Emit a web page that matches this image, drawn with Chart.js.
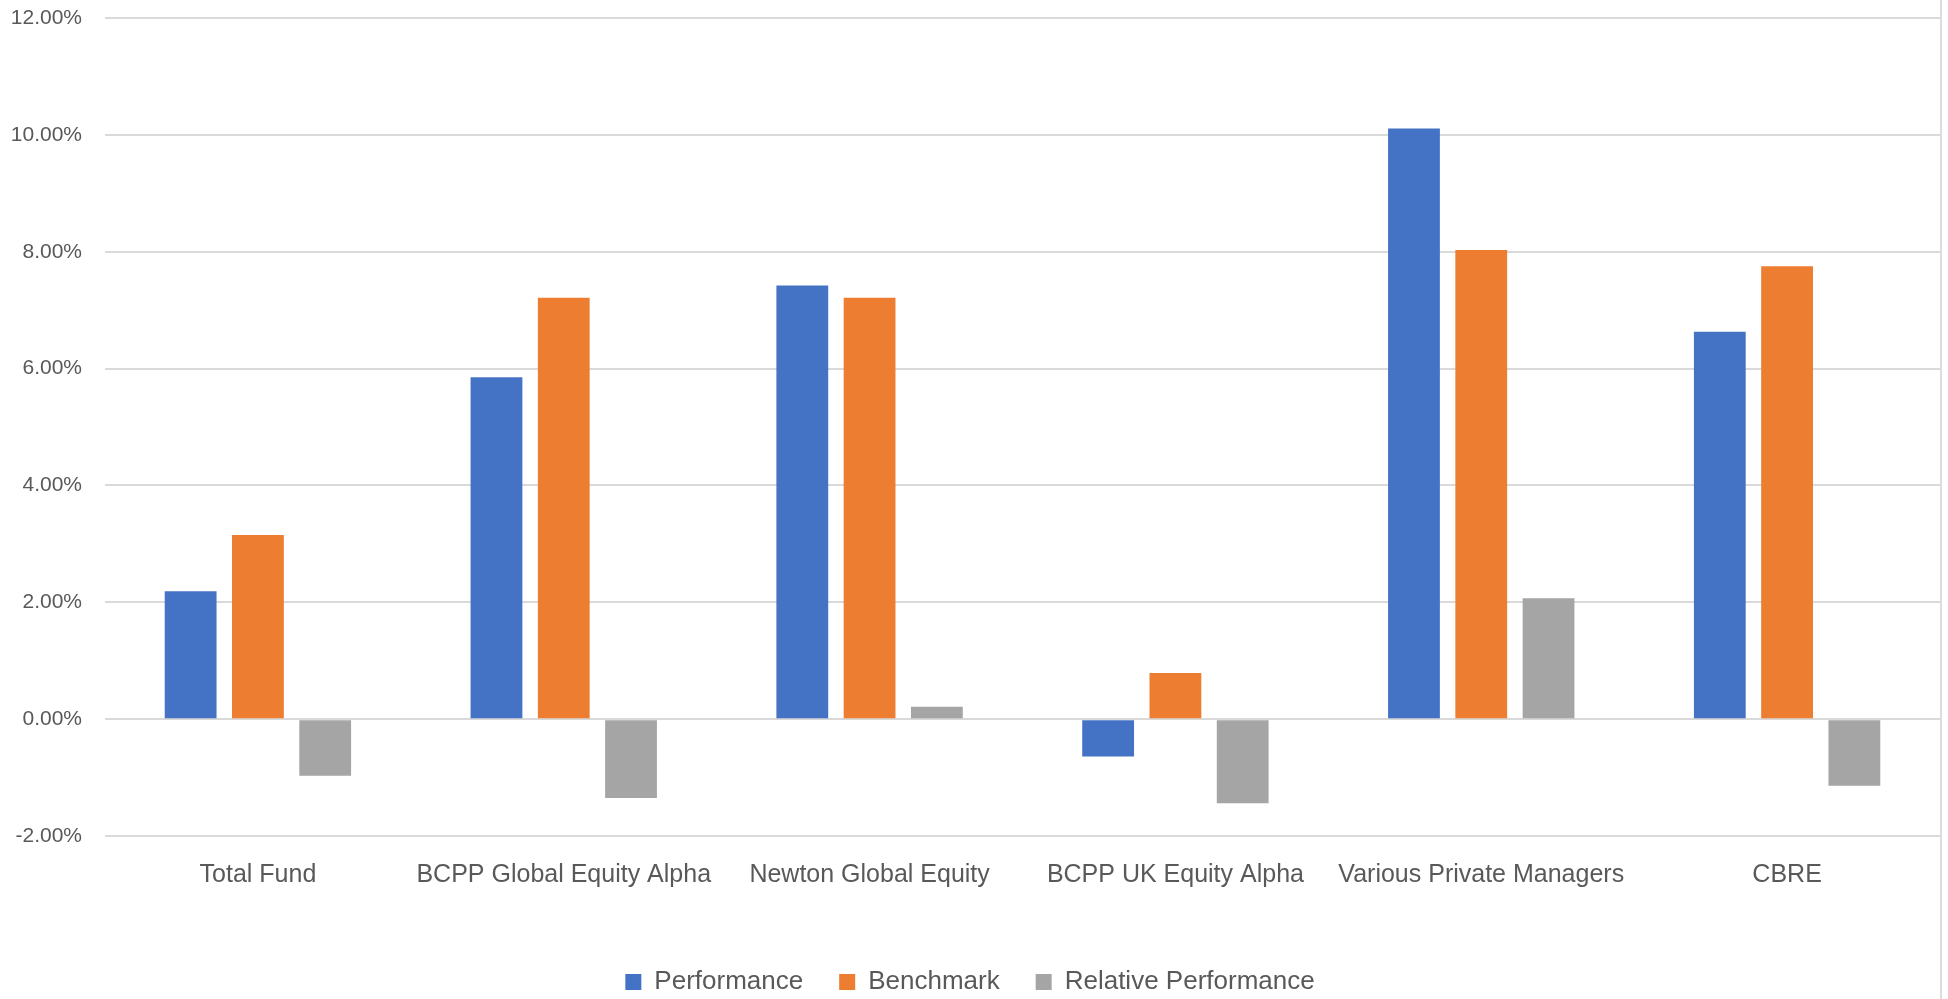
<!DOCTYPE html>
<html>
<head>
<meta charset="utf-8">
<script src="https://cdn.jsdelivr.net/npm/chart.js@4/dist/chart.umd.min.js"></script>
<style>
  html, body { margin: 0; padding: 0; background: #fff; }
  #wrap { width: 1940px; height: 999px; border-right: 2px solid #dcdcdc; }
</style>
</head>
<body>
<div id="wrap"><canvas id="chart" width="1940" height="999"></canvas></div>
<script>
var categories = ["Total Fund", "BCPP Global Equity Alpha", "Newton Global Equity", "BCPP UK Equity Alpha", "Various Private Managers", "CBRE"];
var performance = [2.19, 5.85, 7.42, -0.64, 10.11, 6.63];
var benchmark = [3.15, 7.21, 7.21, 0.79, 8.03, 7.75];
var relative = [-0.97, -1.35, 0.21, -1.44, 2.07, -1.14];

var yTicks = [-2, 0, 2, 4, 6, 8, 10, 12];

var ctx = document.getElementById("chart");

var chartGraph = new Chart(ctx, {
  type: 'bar',
  data: {
    labels: categories,
    datasets: [{
      label: "Performance",
      data: performance,
      backgroundColor: '#4472C4'
    },
    {
      label: "Benchmark",
      data: benchmark,
      backgroundColor: '#ED7D31'
    },
    {
      label: "Relative Performance",
      data: relative,
      backgroundColor: '#A5A5A5'
    }]
  },
  options: {
    responsive: false,
    animation: false,
    layout: { padding: { top: 0, right: 0, left: 0, bottom: -6 } },
    datasets: {
      bar: { categoryPercentage: 0.66, barPercentage: 0.77 }
    },
    plugins: {
      tooltip: { enabled: false },
      legend: {
        position: 'bottom',
        labels: {
          boxWidth: 16,
          boxHeight: 16,
          padding: 36,
          color: '#595959',
          font: { family: 'Liberation Sans', size: 26 }
        }
      }
    },
    scales: {
      x: {
        grid: { display: false, drawTicks: false },
        border: { display: false },
        ticks: {
          color: '#595959',
          padding: 24,
          maxRotation: 0,
          autoSkip: false,
          font: { family: 'Liberation Sans', size: 25 }
        },
        afterFit: function (scale) { scale.height = 97; }
      },
      y: {
        min: -2,
        max: 12,
        afterBuildTicks: function (scale) {
          scale.ticks = yTicks.map(function (v) { return { value: v }; });
        },
        grid: { color: '#d9d9d9', lineWidth: 2, drawTicks: false },
        border: { display: false },
        ticks: {
          color: '#595959',
          padding: 23,
          font: { family: 'Liberation Sans', size: 21 },
          callback: function (v) { return v.toFixed(2) + '%'; }
        },
        afterFit: function (scale) {
          scale.width = 105;
          scale.paddingTop = 18;
          scale.paddingBottom = 10;
        }
      }
    }
  }
});
</script>
</body>
</html>
